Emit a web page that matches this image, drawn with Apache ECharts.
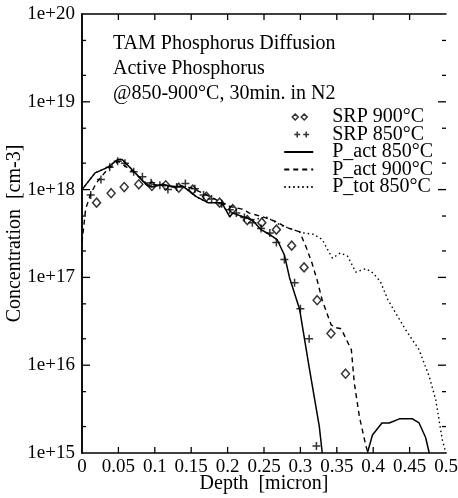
<!DOCTYPE html>
<html>
<head>
<meta charset="utf-8">
<title>TAM Phosphorus Diffusion</title>
<script src="https://cdn.jsdelivr.net/npm/echarts@6/dist/echarts.min.js"></script>
<style>
  html, body { margin: 0; padding: 0; background: #fff; }
  #chart { width: 458px; height: 498px; }
</style>
</head>
<body>
<div id="chart"></div>
<script>
// --- data (depth in micron, concentration in cm-3) ---
var srp900Depth = [0.02, 0.04, 0.058, 0.078, 0.096, 0.115, 0.133, 0.152, 0.171, 0.189, 0.207, 0.227, 0.247, 0.267, 0.288, 0.305, 0.323, 0.342, 0.362];
var srp900Conc = [7.1e17, 9.1e17, 1.07e18, 1.15e18, 1.1e18, 1.12e18, 1.05e18, 1.0e18, 8.3e17, 7.1e17, 6.0e17, 4.5e17, 4.2e17, 3.5e17, 2.3e17, 1.3e17, 5.5e16, 2.3e16, 8e15];

var srp850Depth = [0.012, 0.026, 0.038, 0.049, 0.059, 0.071, 0.083, 0.095, 0.107, 0.118, 0.13, 0.142, 0.155, 0.167, 0.178, 0.192, 0.203, 0.212, 0.223, 0.234, 0.246, 0.258, 0.267, 0.278, 0.292, 0.3, 0.312, 0.322];
var srp850Conc = [8.7e17, 1.3e18, 1.8e18, 2.1e18, 2.0e18, 1.6e18, 1.4e18, 1.2e18, 1.12e18, 1.0e18, 1.07e18, 1.17e18, 1.02e18, 8.7e17, 7.8e17, 6.9e17, 5.9e17, 5.4e17, 4.8e17, 4.2e17, 3.6e17, 3.2e17, 2.5e17, 1.6e17, 8.7e16, 4.4e16, 2e16, 1.2e15];

// null = curve leaves the plot (below 1e15)
var pAct850Depth = [0, 0.018, 0.036, 0.049, 0.055, 0.07, 0.089, 0.096, 0.111, 0.125, 0.138, 0.157, 0.173, 0.192, 0.203, 0.207, 0.221, 0.234, 0.246, 0.26, 0.268, 0.278, 0.285, 0.299, 0.312, 0.326, 0.33, 0.36, 0.392, 0.399, 0.412, 0.422, 0.436, 0.454, 0.463, 0.472, 0.477];
var pAct850Conc = [1.0e18, 1.55e18, 1.8e18, 2.2e18, 2.2e18, 1.65e18, 1.12e18, 1.07e18, 1.15e18, 1.07e18, 1.1e18, 8.3e17, 7.1e17, 7.1e17, 4.9e17, 5.4e17, 4.9e17, 4.5e17, 3.5e17, 3.0e17, 2.7e17, 1.8e17, 1.0e17, 4.3e16, 9.5e15, 2e15, 1e15, null, 1e15, 1.6e15, 2.2e15, 2.2e15, 2.45e15, 2.45e15, 2.2e15, 1.5e15, 1e15];

var pAct900Depth = [0, 0.005, 0.012, 0.02, 0.035, 0.05, 0.07, 0.09, 0.12, 0.15, 0.18, 0.2, 0.22, 0.23, 0.248, 0.267, 0.281, 0.299, 0.308, 0.316, 0.323, 0.33, 0.342, 0.347, 0.356, 0.37, 0.374, 0.381, 0.39, 0.393];
var pAct900Conc = [2.5e17, 6e17, 9e17, 1.2e18, 1.7e18, 2.1e18, 1.6e18, 1.15e18, 1.1e18, 1.05e18, 8e17, 6.5e17, 6e17, 5.4e17, 4.9e17, 4.3e17, 3.7e17, 3.3e17, 2.2e17, 1.45e17, 9.3e16, 5.5e16, 2.9e16, 2.7e16, 2.6e16, 1.5e16, 6.3e15, 2.6e15, 1.2e15, 1e15];

var pTot850Depth = [0, 0.018, 0.036, 0.049, 0.055, 0.07, 0.089, 0.096, 0.111, 0.125, 0.138, 0.157, 0.173, 0.192, 0.203, 0.207, 0.221, 0.234, 0.253, 0.271, 0.29, 0.305, 0.318, 0.33, 0.337, 0.344, 0.355, 0.365, 0.376, 0.39, 0.4, 0.41, 0.42, 0.431, 0.445, 0.463, 0.477, 0.486, 0.495, 0.5];
var pTot850Conc = [1.0e18, 1.55e18, 1.8e18, 2.2e18, 2.2e18, 1.65e18, 1.12e18, 1.07e18, 1.15e18, 1.07e18, 1.1e18, 8.3e17, 7.1e17, 7.1e17, 4.9e17, 5.4e17, 4.9e17, 4.5e17, 4.9e17, 4.0e17, 3.5e17, 3.2e17, 3.1e17, 2.7e17, 2.1e17, 1.66e17, 1.9e17, 1.74e17, 1.15e17, 1.26e17, 1.12e17, 8.9e16, 5.6e16, 3.9e16, 2.5e16, 1.5e16, 7.4e15, 4e15, 1.4e15, 1e15];

// tick values (inward ticks on all four sides)
var xTickDepth = [0.05, 0.1, 0.15, 0.2, 0.25, 0.3, 0.35, 0.4, 0.45];
var yMajorTickConc = [1e16, 1e17, 1e18, 1e19];
var yMinorTickConc = [2e15, 5e15, 2e16, 5e16, 2e17, 5e17, 2e18, 5e18, 2e19, 5e19];

var seriesNames = ['SRP 900°C', 'SRP 850°C', 'P_act 850°C', 'P_act 900°C', 'P_tot 850°C'];
var titleLines = ['TAM Phosphorus Diffusion', 'Active Phosphorus', '@850-900°C, 30min. in N2'];

function pairs(xs, ys) {
  return xs.map(function (x, i) {
    return [x, ys[i] === null ? '-' : ys[i]];
  });
}

var FONT = "'Liberation Serif', 'Times New Roman', serif";
var hollow = { color: 'rgba(0,0,0,0)', borderColor: '#000', borderWidth: 1.5 };
var noSymbol = { color: 'rgba(0,0,0,0)', borderWidth: 0 };
var tickStyle = { stroke: '#000', lineWidth: 1.3 };

// horizontal ticks at given concentrations, on left and right frame
function yTickSeries(values, len) {
  return {
    type: 'custom',
    silent: true,
    clip: false,
    z: 6,
    data: values.map(function (v) { return [0, v]; }),
    encode: { x: 0, y: 1 },
    renderItem: function (params, api) {
      var p = api.coord([0, api.value(1)]);
      var cs = params.coordSys;
      return {
        type: 'group',
        children: [
          { type: 'line', shape: { x1: cs.x, y1: p[1], x2: cs.x + len, y2: p[1] }, style: tickStyle },
          { type: 'line', shape: { x1: cs.x + cs.width - len, y1: p[1], x2: cs.x + cs.width, y2: p[1] }, style: tickStyle }
        ]
      };
    }
  };
}

// vertical ticks at given depths, on bottom and top frame
function xTickSeries(values, len) {
  return {
    type: 'custom',
    silent: true,
    clip: false,
    z: 6,
    data: values.map(function (v) { return [v, 1e15]; }),
    encode: { x: 0, y: 1 },
    renderItem: function (params, api) {
      var p = api.coord([api.value(0), 1e15]);
      var cs = params.coordSys;
      return {
        type: 'group',
        children: [
          { type: 'line', shape: { x1: p[0], y1: cs.y + cs.height, x2: p[0], y2: cs.y + cs.height - len }, style: tickStyle },
          { type: 'line', shape: { x1: p[0], y1: cs.y, x2: p[0], y2: cs.y + len }, style: tickStyle }
        ]
      };
    }
  };
}

var xAxisBase = {
  type: 'value',
  min: 0,
  max: 0.5,
  interval: 0.05,
  axisLine: { show: true, lineStyle: { color: '#000', width: 1.5 } },
  axisTick: { show: false },
  splitLine: { show: false }
};
var yAxisBase = {
  type: 'log',
  logBase: 10,
  min: 1e15,
  max: 1e20,
  axisLine: { show: true, lineStyle: { color: '#000', width: 1.5 } },
  axisTick: { show: false },
  splitLine: { show: false }
};

const myChart = echarts.init(document.getElementById('chart'), null, { renderer: 'canvas' });

let option = {
  backgroundColor: '#fff',
  animation: false,
  textStyle: { fontFamily: FONT, color: '#000' },
  title: {
    text: titleLines.join('\n'),
    left: 108,
    top: 26,
    textStyle: { fontFamily: FONT, fontSize: 20, fontWeight: 'normal', lineHeight: 25, color: '#000' }
  },
  grid: { left: 82, right: 12, top: 14, bottom: 45, outerBoundsMode: 'none', containLabel: false },
  legend: {
    orient: 'vertical',
    right: 20,
    top: 102,
    itemWidth: 29,
    itemHeight: 8,
    itemGap: -2.5,
    textStyle: { fontFamily: FONT, fontSize: 20, color: '#000', padding: [0, 0, 0, 14] },
    data: [
      { name: seriesNames[0], icon: 'path://M0,0 M29,8 M8,4 L11,1 L14,4 L11,7 Z M17,4 L20,1 L23,4 L20,7 Z', itemStyle: hollow },
      { name: seriesNames[1], icon: 'path://M0,0 M29,8 M10,4 L16,4 M13,1 L13,7 M19,4 L25,4 M22,1 L22,7', itemStyle: hollow },
      { name: seriesNames[2], itemStyle: noSymbol },
      { name: seriesNames[3], itemStyle: noSymbol },
      { name: seriesNames[4], itemStyle: noSymbol }
    ]
  },
  xAxis: [
    Object.assign({}, xAxisBase, {
      position: 'bottom',
      name: 'Depth  [micron]',
      nameLocation: 'middle',
      nameGap: 21,
      nameMoveOverlap: false,
      nameTextStyle: { fontFamily: FONT, fontSize: 20, color: '#000' },
      axisLabel: { fontFamily: FONT, fontSize: 19, color: '#000', margin: 5 }
    }),
    Object.assign({}, xAxisBase, { position: 'top', axisLabel: { show: false } })
  ],
  yAxis: [
    Object.assign({}, yAxisBase, {
      position: 'left',
      name: 'Concentration  [cm-3]',
      nameLocation: 'middle',
      nameGap: 57,
      nameMoveOverlap: false,
      nameTextStyle: { fontFamily: FONT, fontSize: 20, color: '#000' },
      axisLabel: {
        fontFamily: FONT, fontSize: 19, color: '#000', margin: 7,
        formatter: function (v) { return '1e+' + Math.round(Math.log10(v)); }
      }
    }),
    Object.assign({}, yAxisBase, { position: 'right', axisLabel: { show: false } })
  ],
  series: [
    {
      name: seriesNames[0],
      type: 'scatter',
      symbol: 'diamond',
      symbolSize: [8, 9],
      itemStyle: hollow,
      data: pairs(srp900Depth, srp900Conc),
      z: 5
    },
    {
      name: seriesNames[1],
      type: 'scatter',
      symbol: 'path://M0,5 L10,5 M5,0 L5,10',
      symbolSize: 8,
      itemStyle: hollow,
      data: pairs(srp850Depth, srp850Conc),
      z: 5
    },
    {
      name: seriesNames[2],
      type: 'line',
      showSymbol: false,
      symbol: 'none',
      connectNulls: false,
      lineStyle: { color: '#000', width: 1.5, type: 'solid' },
      itemStyle: { color: '#000' },
      data: pairs(pAct850Depth, pAct850Conc)
    },
    {
      name: seriesNames[3],
      type: 'line',
      showSymbol: false,
      symbol: 'none',
      lineStyle: { color: '#000', width: 1.4, type: [5, 4] },
      itemStyle: { color: '#000' },
      data: pairs(pAct900Depth, pAct900Conc)
    },
    {
      name: seriesNames[4],
      type: 'line',
      showSymbol: false,
      symbol: 'none',
      lineStyle: { color: '#000', width: 1.4, type: [1.5, 3] },
      itemStyle: { color: '#000' },
      data: pairs(pTot850Depth, pTot850Conc)
    },
    xTickSeries(xTickDepth, 6),
    yTickSeries(yMajorTickConc, 8),
    yTickSeries(yMinorTickConc, 4)
  ]
};

myChart.setOption(option);
</script>
</body>
</html>
